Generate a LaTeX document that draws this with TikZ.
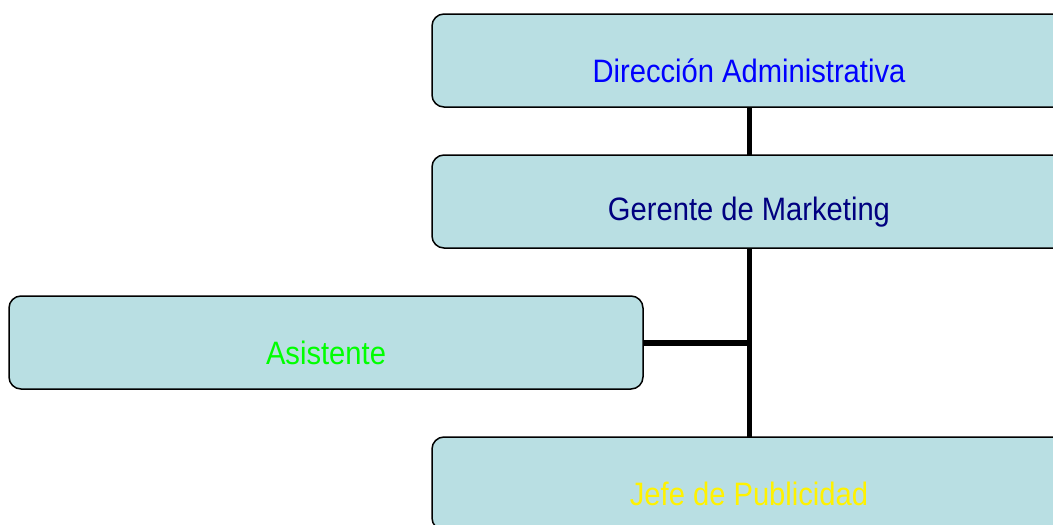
\documentclass[tikz,border=0pt]{standalone}
\usepackage{fontspec}
\setmainfont[FakeStretch=0.9]{Liberation Sans}
\begin{document}
\begin{tikzpicture}[x=1pt,y=-1pt,
  box/.style={draw=black, line width=1.5pt, fill=boxfill, rounded corners=12pt,
    minimum width=634pt, minimum height=93pt, inner sep=0pt, outer sep=0pt},
  conn/.style={draw=black, line width=5pt},
  lbl/.style={font=\fontsize{32.4}{36}\selectfont, inner sep=0pt}]
\definecolor{boxfill}{RGB}{185,223,227}
\definecolor{navy}{RGB}{0,0,128}
\useasboundingbox (0,0) rectangle (1053,525);
\clip (0,0) rectangle (1053,525);
\node[box] (dir) at (749,60.5) {};
\node[box] (ger) at (749,201.5) {};
\node[box] (asis) at (326,342.5) {};
\node[box] (jefe) at (749,483.5) {};
\draw[conn] (dir.south) -- (ger.north);
\draw[conn] (ger.south) -- (jefe.north);
\draw[conn, line width=6pt] (asis.east) -- (asis.east -| ger.south);
\node[lbl, text=blue] (tdir) at (749,71) {Dirección Administrativa};
\node[lbl, text=navy] (tger) at (749,212) {Gerente de Marketing};
\node[lbl, text={rgb,255:red,0;green,255;blue,0}] (tasis) at (326,353) {Asistente};
\node[lbl, text=yellow] (tjefe) at (749,494) {Jefe de Publicidad};
\end{tikzpicture}
\end{document}
